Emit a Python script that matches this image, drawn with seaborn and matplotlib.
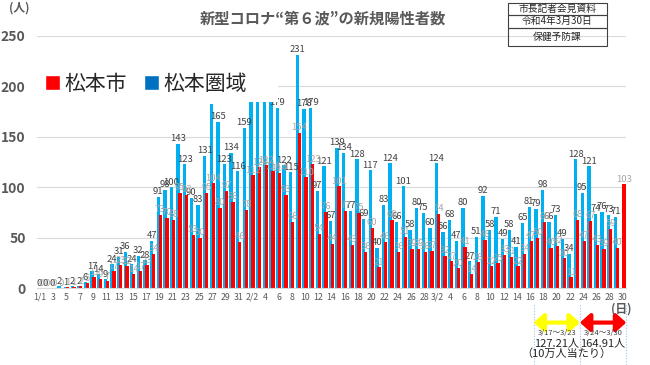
import numpy as np
import pandas as pd
import matplotlib
matplotlib.use("Agg")
import matplotlib.pyplot as plt
import matplotlib.patches as mpatches
import seaborn as sns

# ---------------- data ----------------
dates = pd.date_range("2022-01-01", "2022-03-30", freq="D")
date_labels = [f"{d.month}/{d.day}" for d in dates]

area_jan = [0, 0, 0, 2, 1, 2, 2, 6, 17, 14, 9, 24, 31, 36, 24, 32, 28, 47, 91, 98,
            100, 143, 123, 90, 83, 131, 183, 165, 123, 134, 116]
area_feb = [159, 196, 186, 209, 189, 179, 122, 115, 231, 178, 179, 97, 121, 67, 139,
            134, 77, 128, 69, 117, 40, 83, 124, 66, 101, 58, 80, 75]
area_mar = [60, 124, 56, 68, 47, 80, 27, 51, 92, 58, 71, 49, 58, 41, 65, 81, 79, 98,
            66, 73, 49, 34, 128, 95, 121, 74, 76, 73, 71, None]

city_jan = [0, 0, 0, 0, 1, 1, 2, 5, 11, 9, 7, 17, 23, 22, 14, 17, 23, 34, 73, 70,
            68, 95, 93, 53, 50, 95, 104, 80, 97, 86, 46]
city_feb = [78, 112, 120, 122, 116, 114, 93, 66, 154, 110, 123, 54, 76, 44, 101,
            77, 43, 75, 36, 60, 21, 46, 68, 36, 51, 39, 39, 36]
city_mar = [37, 74, 32, 27, 20, 41, 14, 26, 48, 22, 25, 33, 31, 22, 34, 47, 50, 66,
            40, 42, 30, 11, 68, 47, 67, 43, 39, 59, 40, 103]

series_names = ["松本市", "松本圏域"]
title = "新型コロナ“第６波”の新規陽性者数"
info_rows = ["市長記者会見資料", "令和4年3月30日", "保健予防課"]
period1, rate1 = "3/17～3/23", "127.21人"
period2, rate2 = "3/24～3/30", "164.91人"
rate_note = "（10万人当たり）"

# tick labels every other day
tick_idx = list(range(0, len(dates), 2))
tick_labels = []
seen_month = set()
for i in tick_idx:
    d = dates[i]
    if d.month not in seen_month:
        tick_labels.append(f"{d.month}/{d.day}")
        seen_month.add(d.month)
    else:
        tick_labels.append(f"{d.day}")

df = pd.DataFrame({
    "idx": np.arange(len(dates)),
    "date": date_labels,
    "松本圏域": pd.array(area_jan + area_feb + area_mar, dtype="Float64"),
    "松本市": pd.array(city_jan + city_feb + city_mar, dtype="Float64"),
})

# ---------------- style ----------------
sns.set_theme(style="white")
plt.rcParams["font.family"] = ["Noto Sans CJK JP", "DejaVu Sans"]

BLUE = "#00b0f0"
BLUE_LEG = "#0070c0"
RED = "#ff0000"
GRID = "#d9d9d9"
TXT = "#595959"

fig = plt.figure(figsize=(6.5, 3.65), dpi=100)
ax = fig.add_axes([0.0565, 0.2096, 0.907, 0.6918])

blue_df = df.dropna(subset=["松本圏域"]).copy()
blue_df["pos"] = blue_df["idx"] - 0.15
blue_df["松本圏域"] = blue_df["松本圏域"].astype(float)
red_df = df.dropna(subset=["松本市"]).copy()
red_df["pos"] = red_df["idx"] + 0.15
red_df["松本市"] = red_df["松本市"].astype(float)

sns.barplot(data=blue_df, x="pos", y="松本圏域", native_scale=True, width=0.5,
            color=BLUE, saturation=1, linewidth=0, errorbar=None, ax=ax, zorder=2)
sns.barplot(data=red_df, x="pos", y="松本市", native_scale=True, width=0.5,
            color=RED, saturation=1, linewidth=0, errorbar=None, ax=ax, zorder=2)

bars_blue, bars_red = ax.containers[0], ax.containers[1]
ax.bar_label(bars_blue, labels=[f"{int(v)}" for v in blue_df["松本圏域"]],
             padding=0.5, fontsize=6.8, color="#404040", zorder=3)
ax.bar_label(bars_red, labels=[f"{int(v)}" for v in red_df["松本市"]],
             padding=0.5, fontsize=6.8, color="#a6a6a6", zorder=3)

ax.set_xlim(-0.5, len(dates) - 0.5)
ax.set_ylim(0, 250)
ax.set_yticks(range(0, 251, 50))
ax.set_xticks(tick_idx)
ax.set_xticklabels(tick_labels)
ax.set_xlabel("")
ax.set_ylabel("")
ax.tick_params(axis="x", labelsize=6.3, colors=TXT, length=0, pad=3)
ax.tick_params(axis="y", labelsize=10, colors=TXT, length=0, pad=8)
for lab in ax.get_yticklabels():
    lab.set_fontweight("bold")
ax.yaxis.grid(True, color=GRID, lw=0.8)
ax.set_axisbelow(True)
for s in ["top", "right", "left"]:
    ax.spines[s].set_visible(False)
ax.spines["bottom"].set_color(GRID)
ax.spines["bottom"].set_linewidth(0.8)

# white legend background covering bar tops
ax.add_patch(mpatches.Rectangle((0, 0.7386), 0.41, 0.24, transform=ax.transAxes,
                                facecolor="white", edgecolor="none", zorder=4))
handles = [mpatches.Patch(facecolor=RED), mpatches.Patch(facecolor=BLUE_LEG)]
leg = ax.legend(handles, series_names, loc="center left", bbox_to_anchor=(0.014, 0.81),
                ncol=2, frameon=False, fontsize=15, handlelength=0.7, handleheight=0.7,
                handletextpad=0.25, columnspacing=0.8, borderpad=0, borderaxespad=0)
leg.set_zorder(5)

# titles and labels
W, H = 650, 365
fig.text(323 / W, 1 - 18 / H, title, ha="center", va="center", fontsize=11,
         color=TXT, fontweight="bold")
fig.text(19 / W, 1 - 8 / H, "(人)", ha="center", va="center", fontsize=8.5, color=TXT,
         fontweight="bold")
fig.text(621 / W, 1 - 309 / H, "(日)", ha="center", va="center", fontsize=8.5,
         color=TXT, fontweight="bold")

# info box
rows_px = [(3.3, 15.0), (15.0, 27.7), (27.7, 46.0)]
for (y0, y1), txt in zip(rows_px, info_rows):
    fig.add_artist(mpatches.Rectangle((508 / W, 1 - y1 / H), 99 / W, (y1 - y0) / H,
                                      transform=fig.transFigure, fill=False,
                                      edgecolor="#404040", lw=0.8))
    fig.text(557.5 / W, 1 - (y0 + y1) / 2 / H, txt, ha="center", va="center",
             fontsize=7, color="#262626")

# period annotations below axis
trans = ax.get_xaxis_transform()
x17 = date_labels.index("3/17") - 0.5
x24 = date_labels.index("3/24") - 0.5
xend = date_labels.index("3/30") + 0.5
for xv in (x17, x24, xend):
    ax.plot([xv, xv], [-0.065, -0.30], transform=trans, clip_on=False,
            ls=(0, (1, 1.5)), color="#9dc3e6", lw=0.8)
for (xa, xb, col) in [(x17, x24, "#ffff00"), (x24, xend, RED)]:
    ax.annotate("", xy=(xb, -0.135), xytext=(xa, -0.135), xycoords=trans,
                textcoords=trans,
                arrowprops=dict(arrowstyle="<|-|>,head_length=0.5,head_width=0.45",
                                color=col, lw=3, shrinkA=0, shrinkB=0),
                annotation_clip=False)
m1 = (x17 + x24) / 2
m2 = (x24 + xend) / 2
ax.text(m1, -0.176, period1, transform=trans, ha="center", va="center", fontsize=5.5,
        color="#404040")
ax.text(m2, -0.176, period2, transform=trans, ha="center", va="center", fontsize=5.5,
        color="#404040")
ax.text(m1, -0.216, rate1, transform=trans, ha="center", va="center", fontsize=8,
        color="#262626")
ax.text(m2, -0.216, rate2, transform=trans, ha="center", va="center", fontsize=8,
        color="#262626")
ax.text(m1 + 1.5, -0.257, rate_note, transform=trans, ha="center", va="center",
        fontsize=8, color="#262626")

fig.savefig("out.png", dpi=100)
